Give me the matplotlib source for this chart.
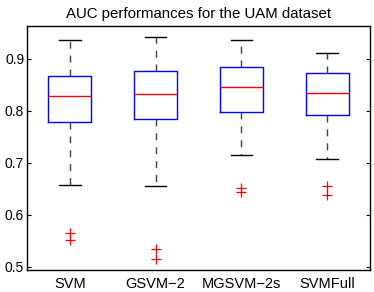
import matplotlib
matplotlib.use("Agg")
import matplotlib.pyplot as plt

plt.rcParams['font.family'] = ['Liberation Sans', 'DejaVu Sans']

methods = ["SVM", "GSVM\u22122", "MGSVM\u22122s", "SVMFull"]
whisker_low = [0.657, 0.655, 0.716, 0.707]
q1 = [0.778, 0.785, 0.798, 0.792]
medians = [0.828, 0.832, 0.846, 0.834]
q3 = [0.866, 0.877, 0.885, 0.873]
whisker_high = [0.936, 0.941, 0.936, 0.911]
outliers = [[0.566, 0.551], [0.535, 0.516], [0.652, 0.643], [0.655, 0.638]]

stats = []
for i in range(len(methods)):
    stats.append({
        'label': methods[i],
        'whislo': whisker_low[i],
        'q1': q1[i],
        'med': medians[i],
        'q3': q3[i],
        'whishi': whisker_high[i],
        'fliers': outliers[i],
    })

fig = plt.figure(figsize=(3.74, 2.92), dpi=100)
ax = fig.add_axes([27 / 374, 22 / 292, 343 / 374, 244 / 292])

ax.bxp(stats, positions=[1, 2, 3, 4], widths=0.5,
       boxprops=dict(color='#0000ff', linewidth=1),
       medianprops=dict(color='#ff0000', linewidth=1),
       whiskerprops=dict(color='#404040', linestyle=(0, (5, 5)), linewidth=1),
       capprops=dict(color='black', linewidth=1),
       capwidths=0.25,
       flierprops=dict(marker='+', markeredgecolor='#ff0000', markersize=7,
                       markeredgewidth=0.9, linestyle='none'))

ax.set_xlim(0.5, 4.5)
ax.set_ylim(0.494, 0.963)
ax.set_yticks([0.5, 0.6, 0.7, 0.8, 0.9])
ax.set_yticklabels(["0.5", "0.6", "0.7", "0.8", "0.9"], fontsize=10)
ax.tick_params(axis='y', direction='in', length=3, right=True, pad=2)
ax.tick_params(axis='x', length=0, labelsize=10.5, pad=5)
for s in ax.spines.values():
    s.set_linewidth(1)
ax.set_title("AUC performances for the UAM dataset", fontsize=10.8, pad=6)

fig.savefig("out.png", dpi=100)
